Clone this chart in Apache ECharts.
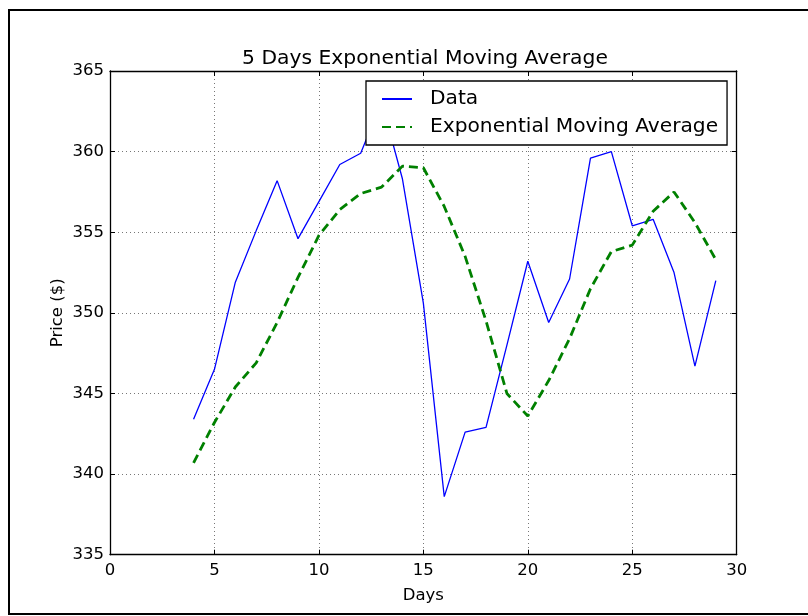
<!DOCTYPE html>
<html>
<head>
<meta charset="utf-8">
<script src="https://cdn.jsdelivr.net/npm/echarts@6/dist/echarts.min.js"></script>
<style>
  html, body { margin: 0; padding: 0; background: #fff; }
  #chart { width: 808px; height: 616px; }
</style>
</head>
<body>
<div id="chart"></div>
<script>
// Trading days on the x axis
const days = [4, 5, 6, 7, 8, 9, 10, 11, 12, 13, 14, 15, 16, 17, 18, 19, 20, 21, 22, 23, 24, 25, 26, 27, 28, 29];
// Closing prices
const prices = [343.4, 346.5, 351.9, 355.1, 358.2, 354.6, 356.9, 359.2, 359.9, 363.1, 358.3, 350.6, 338.6,
                342.6, 342.9, 348.0, 353.2, 349.4, 352.1, 359.6, 360.0, 355.4, 355.8, 352.5, 346.7, 352.0];
// 5-day exponential moving average
const ema = [340.7, 343.2, 345.4, 346.9, 349.4, 352.2, 354.8, 356.4, 357.4, 357.8, 359.1, 359.0, 356.6,
             353.5, 349.5, 345.0, 343.6, 345.8, 348.4, 351.5, 353.8, 354.2, 356.3, 357.5, 355.6, 353.3];
// Axis ranges
const xTicks = { min: 0, max: 30, step: 5 };
const yTicks = { min: 335, max: 365, step: 5 };

const FONT = 'DejaVu Sans';
const pair = (xs, ys) => xs.map((x, i) => [x, ys[i]]);

const gridLine = { show: true, lineStyle: { color: '#777', width: 1, type: [1, 3] } };
const frame = { show: true, onZero: false, lineStyle: { color: '#000', width: 1.3 } };
const tickIn = { show: true, inside: true, length: 5, lineStyle: { color: '#000', width: 1 } };

const chart = echarts.init(document.getElementById('chart'), null, { renderer: 'canvas' });
chart.setOption({
  animation: false,
  backgroundColor: '#fff',
  textStyle: { fontFamily: FONT },
  title: {
    text: '5 Days Exponential Moving Average',
    left: 420, top: 44, textAlign: 'center',
    textStyle: { fontFamily: FONT, fontSize: 20.3, fontWeight: 'normal', color: '#000' }
  },
  grid: { left: 110, top: 71, right: 71.3, bottom: 61.3, containLabel: false },
  legend: {
    orient: 'vertical',
    left: 366, top: 81,
    padding: [8, 9, 8, 15],
    itemWidth: 30, itemHeight: 14, itemGap: 8,
    backgroundColor: '#fff', borderColor: '#000', borderWidth: 1.3, borderRadius: 0,
    itemStyle: { opacity: 0 },
    textStyle: { fontFamily: FONT, fontSize: 20.2, color: '#000', lineHeight: 20, padding: [0, 0, 0, 13] },
    data: ['Data', 'Exponential Moving Average']
  },
  xAxis: [
    {
      type: 'value', min: xTicks.min, max: xTicks.max, interval: xTicks.step,
      name: 'Days', nameLocation: 'middle', nameGap: 33, nameMoveOverlap: false,
      nameTextStyle: { fontFamily: FONT, fontSize: 16.5, color: '#000' },
      axisLine: frame, axisTick: tickIn, splitLine: gridLine,
      axisLabel: { fontFamily: FONT, fontSize: 16.5, color: '#000', margin: 8 }
    },
    {
      type: 'value', position: 'top', min: xTicks.min, max: xTicks.max, interval: xTicks.step,
      axisLine: frame, axisTick: tickIn, splitLine: { show: false }, axisLabel: { show: false }
    }
  ],
  yAxis: [
    {
      type: 'value', min: yTicks.min, max: yTicks.max, interval: yTicks.step,
      name: 'Price ($)', nameLocation: 'middle', nameGap: 44, nameRotate: 90, nameMoveOverlap: false,
      nameTextStyle: { fontFamily: FONT, fontSize: 16.5, color: '#000' },
      axisLine: frame, axisTick: tickIn, splitLine: gridLine,
      axisLabel: { fontFamily: FONT, fontSize: 16.5, color: '#000', margin: 6 }
    },
    {
      type: 'value', position: 'right', min: yTicks.min, max: yTicks.max, interval: yTicks.step,
      axisLine: frame, axisTick: tickIn, splitLine: { show: false }, axisLabel: { show: false }
    }
  ],
  series: [
    {
      name: 'Data', type: 'line', data: pair(days, prices),
      symbol: 'none', showSymbol: false,
      lineStyle: { color: '#0000ff', width: 1.3 }, itemStyle: { color: '#0000ff' }
    },
    {
      name: 'Exponential Moving Average', type: 'line', data: pair(days, ema),
      symbol: 'none', showSymbol: false,
      lineStyle: { color: '#008000', width: 2.8, type: [9, 5] }, itemStyle: { color: '#008000' }
    }
  ],
  graphic: [
    {
      type: 'rect', silent: true, z: 100,
      shape: { x: 9, y: 10, width: 840, height: 604 },
      style: { fill: 'none', stroke: '#000', lineWidth: 2 }
    }
  ]
});
</script>
</body>
</html>
